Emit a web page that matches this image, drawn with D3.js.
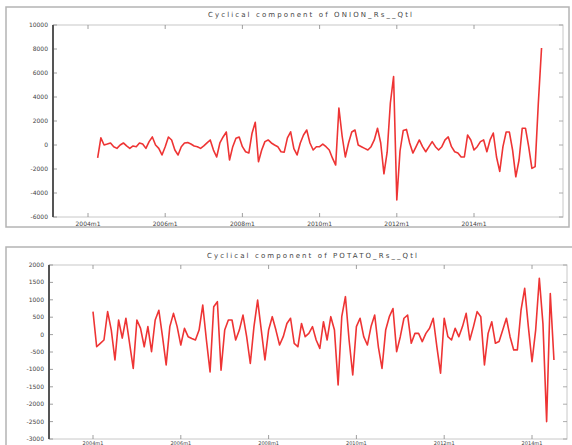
<!DOCTYPE html>
<html lang="en">
<head>
    <meta charset="UTF-8">
    <title>Cyclical components</title>
    <style>
        body {
            margin: 0;
            padding: 0;
            background-color: #fff;
            font-family: 'DejaVu Sans', sans-serif;
        }
        .frame {
            fill: #fff;
            stroke: #b4b4b4;
            stroke-width: 1.5px;
        }
        .box {
            fill: none;
            stroke: #c8c8c8;
            stroke-width: 1px;
        }
        .tick-label {
            font-size: 6px;
            fill: #444;
        }
        .title {
            font-size: 7px;
            fill: #444;
        }
        .series {
            fill: none;
            stroke: #ee3434;
            stroke-width: 1.6px;
            stroke-linejoin: round;
        }
    </style>
</head>
<body>
    <div id="chart"></div>

    <script src="https://d3js.org/d3.v7.min.js"></script>
    <script>
        // tick labels on the time axis (every 24 months)
        const monthTicks = [0, 24, 48, 72, 96, 120];
        const monthLabels = ['2004m1', '2006m1', '2008m1', '2010m1', '2012m1', '2014m1'];

        // onion series, monthly, starting at month 3
        const onionStart = 3;
        const onionValues = [
            -1080, 600, 0, 80, 170, -140, -280, 0, 170, -80,
            -280, -80, -140, 170, 80, -280, 280, 670, 0, -280,
            -830, -140, 670, 420, -420, -830, -140, 170, 200, 80,
            -80, -140, -280, -80, 170, 420, -420, -1000, 170, 670,
            1080, -1250, -140, 560, 670, -140, -560, -670, 980, 1900,
            -1400, -420, 280, 420, 170, 0, -140, -560, -600, 600,
            1100, -300, -830, 170, 830, 1250, 170, -420, -140, -140,
            80, -140, -420, -1100, -1670, 3080, 750, -1000, 170, 1080,
            1250, 0, -140, -280, -420, -140, 420, 1400, 170, -2400,
            -600, 3500, 5700, -4580, -500, 1200, 1300, 170, -670, -140,
            420, -140, -560, -140, 280, -140, -420, -140, 420, 670,
            -140, -560, -670, -1000, -1000, 830, 420, -420, -140, 280,
            420, -560, 420, 1000, -1000, -2200, -140, 1080, 1080, -420,
            -2650, -1250, 1400, 1400, -140, -1950, -1800, 3500, 8080
        ];
        const onionTicks = [10000, 8000, 6000, 4000, 2000, 0, -2000, -4000, -6000];

        // potato series, monthly, starting at month 0
        const potatoStart = 0;
        const potatoValues = [
            658, -350, -250, -155, 660, 130, -730, 420, -100, 470,
            -250, -970, 420, 180, -350, 230, -490, 420, 700, -60,
            -870, 230, 610, 230, -300, 180, -60, -110, -155, 130,
            850, -155, -1070, 800, 945, -1020, 130, 420, 420, -155,
            130, 560, -60, -830, 230, 990, 130, -730, 130, 515,
            130, -300, -60, 320, 470, -250, -350, 320, -60, 35,
            230, -155, -395, 370, -155, 515, 130, -1450, 515, 1090,
            -155, -1160, 230, 470, -60, -300, 230, 560, -350, -970,
            130, 515, 750, -490, -60, 470, 560, -250, 35, 35,
            -200, 35, 180, 470, -350, -1110, 470, -60, -155, 180,
            -60, 230, 610, -155, 230, 660, 515, -870, 35, 370,
            -250, -200, 130, 470, -60, -440, -440, 700, 1330, 230,
            -780, 130, 1620, 300, -2500, 1180, -730
        ];
        const potatoTicks = [2000, 1500, 1000, 500, 0, -500, -1000, -1500, -2000, -2500, -3000];

        const width = 572;
        const height = 445;

        const svg = d3.select('#chart')
            .append('svg')
            .attr('width', width)
            .attr('height', height);

        function drawPanel(p) {
            const g = svg.append('g');

            // outer grey frame
            g.append('rect')
                .attr('class', 'frame')
                .attr('x', p.frame[0])
                .attr('y', p.frame[1])
                .attr('width', p.frame[2] - p.frame[0])
                .attr('height', p.frame[3] - p.frame[1]);

            const x = d3.scaleLinear().domain([0, 120]).range([p.x0, p.x1]);
            const y = d3.scaleLinear()
                .domain([d3.min(p.ticks), d3.max(p.ticks)])
                .range([p.bottom, p.top]);

            // plot box
            g.append('rect')
                .attr('class', 'box')
                .attr('x', p.left)
                .attr('y', p.top)
                .attr('width', p.right - p.left)
                .attr('height', p.bottom - p.top);

            // inward ticks on all four sides
            const tickSize = 4;
            g.selectAll('.ltick').data(p.ticks).enter().append('line')
                .attr('x1', p.left).attr('x2', p.left + tickSize)
                .attr('y1', d => y(d)).attr('y2', d => y(d))
                .attr('stroke', '#888').attr('stroke-width', 0.8);
            g.selectAll('.rtick').data(p.ticks).enter().append('line')
                .attr('x1', p.right).attr('x2', p.right - tickSize)
                .attr('y1', d => y(d)).attr('y2', d => y(d))
                .attr('stroke', '#999').attr('stroke-width', 0.8);
            g.selectAll('.btick').data(monthTicks).enter().append('line')
                .attr('x1', d => x(d)).attr('x2', d => x(d))
                .attr('y1', p.bottom).attr('y2', p.bottom - tickSize)
                .attr('stroke', '#888').attr('stroke-width', 0.8);
            g.selectAll('.ttick').data(monthTicks).enter().append('line')
                .attr('x1', d => x(d)).attr('x2', d => x(d))
                .attr('y1', p.top).attr('y2', p.top + tickSize)
                .attr('stroke', '#888').attr('stroke-width', 0.8);

            // dark left axis line
            g.append('line')
                .attr('x1', p.left).attr('x2', p.left)
                .attr('y1', p.top).attr('y2', p.bottom)
                .attr('stroke', '#555').attr('stroke-width', 2);

            // y labels
            g.selectAll('.ylab').data(p.ticks).enter().append('text')
                .attr('class', 'tick-label')
                .attr('x', p.left - 5)
                .attr('y', d => y(d) + 2)
                .attr('text-anchor', 'end')
                .text(d => d);

            // x labels
            g.selectAll('.xlab').data(monthTicks).enter().append('text')
                .attr('class', 'tick-label')
                .style('font-size', p.xFont + 'px')
                .attr('x', d => x(d))
                .attr('y', p.bottom + p.xGap)
                .attr('text-anchor', 'middle')
                .text((d, i) => monthLabels[i]);

            // title
            g.append('text')
                .attr('class', 'title')
                .attr('x', p.titleX)
                .attr('y', p.titleY)
                .attr('textLength', p.titleW)
                .attr('lengthAdjust', 'spacing')
                .text(p.title);

            const line = d3.line()
                .x((d, i) => x(p.start + i))
                .y(d => y(d));

            g.append('path')
                .datum(p.values)
                .attr('class', 'series')
                .attr('d', line);
        }

        drawPanel({
            frame: [6, 7, 569, 227],
            left: 53, right: 563, top: 25, bottom: 217,
            x0: 88, x1: 474,
            ticks: onionTicks,
            start: onionStart,
            values: onionValues,
            xFont: 6, xGap: 9,
            title: 'Cyclical component of ONION_Rs__Qtl',
            titleX: 208, titleY: 17, titleW: 204
        });

        drawPanel({
            frame: [6, 247, 580, 460],
            left: 49, right: 567, top: 265, bottom: 439,
            x0: 93, x1: 532,
            ticks: potatoTicks,
            start: potatoStart,
            values: potatoValues,
            xFont: 5, xGap: 5.5,
            title: 'Cyclical component of POTATO_Rs__Qtl',
            titleX: 207, titleY: 258, titleW: 210
        });
    </script>
</body>
</html>
